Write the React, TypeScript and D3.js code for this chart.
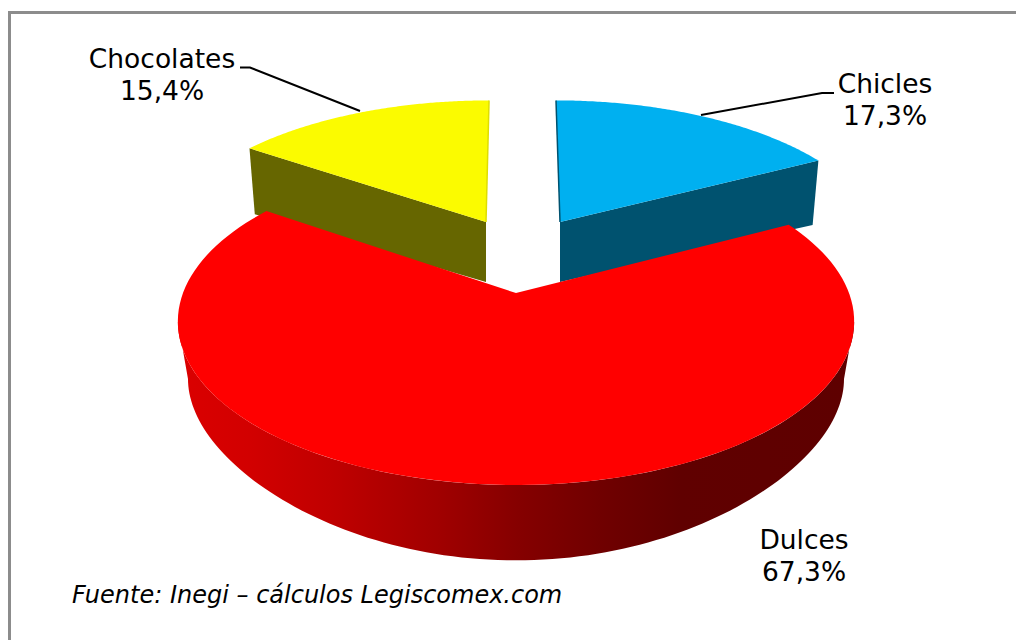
import React from 'react';
import * as d3 from 'd3';

// --- Data ---
const categories = ['Chicles', 'Dulces', 'Chocolates'];
const shares = [17.3, 67.3, 15.4];
const sliceColors = ['#00b0f0', '#ff0000', '#fbfb00'];
const wallColors = ['#00526f', '#8a0000', '#666600'];
const sourceNote = 'Fuente: Inegi – cálculos Legiscomex.com';

// --- Layout ---
const WIDTH = 1016;
const HEIGHT = 640;
const CX = 516;
const CY = 293;
const RADIUS_X = 333;
const RADIUS_Y = 158.6;
const TILT = 0.174;
const LOWER_RADIUS_X = 323;
const LOWER_RADIUS_Y = 141;
const LOWER_TILT = 0.32;
const DEPTH = 60;

// the two small slices are pulled out of the pie, red one stays put
const wedgeLayout = [
    { dx: 44, dy: -71, sx: 0.955, sy: 0.9, shear: 0.033 },
    { dx: 0, dy: 0, sx: 1, sy: 1, shear: 0 },
    { dx: -30, dy: -71, sx: 0.955, sy: 0.9, shear: -0.025 },
];

const labelLayout = [
    { x: 885, y: 93, leader: [[834, 93], [822, 93], [701, 115]] },
    { x: 804, y: 549, leader: [] },
    { x: 162, y: 68, leader: [[240, 67.5], [250, 67.5], [360, 111]] },
];

// --- Helpers ---
const pie = d3.pie<number>().sort(null).startAngle(0).endAngle(2 * Math.PI);
const slices = pie(shares);

// angle runs clockwise from the top of the pie, as in d3.pie
const topPoint = (angle: number, w = wedgeLayout[1]): [number, number] => {
    const u = Math.sin(angle);
    const v = -Math.cos(angle);
    const f = 1 - TILT * v;
    const y = (RADIUS_Y * v * w.sy) / f;
    return [CX + w.dx + (RADIUS_X * u * w.sx) / f + w.shear * y, CY + w.dy + y];
};

const bottomPoint = (angle: number, w = wedgeLayout[1]): [number, number] => {
    const u = Math.sin(angle);
    const v = -Math.cos(angle);
    return [
        CX + w.dx + (LOWER_RADIUS_X * u * w.sx) / (1 - TILT * v),
        CY + w.dy + DEPTH + (LOWER_RADIUS_Y * v) / (1 - LOWER_TILT * v),
    ];
};

const line = d3.line();

const sampleAngles = (a0: number, a1: number) => d3.range(0, 121).map(i => a0 + ((a1 - a0) * i) / 120);

const topPath = (a0: number, a1: number, w: typeof wedgeLayout[number]) =>
    line([[CX + w.dx, CY + w.dy], ...sampleAngles(a0, a1).map(a => topPoint(a, w))]) + 'Z';

// flat cut face between the rim point and the apex of a pulled out slice
const cutFacePath = (angle: number, w: typeof wedgeLayout[number]) =>
    line([
        [CX + w.dx, CY + w.dy],
        topPoint(angle, w),
        bottomPoint(angle, w),
        [CX + w.dx, CY + w.dy + DEPTH],
    ]) + 'Z';

const rimPath = (a0: number, a1: number) => {
    const angles = sampleAngles(a0, a1);
    return line([...angles.map(a => topPoint(a)), ...angles.slice().reverse().map(a => bottomPoint(a))]) + 'Z';
};

const wallStops = [
    { at: 185, color: '#da0000' },
    { at: 250, color: '#d20000' },
    { at: 330, color: '#c00000' },
    { at: 440, color: '#a00000' },
    { at: 516, color: '#860000' },
    { at: 600, color: '#700000' },
    { at: 680, color: '#600000' },
    { at: 850, color: '#5e0000' },
];
const stopOffset = d3.scaleLinear().domain([185, 850]).range([0, 1]);

const percentLabel = (v: number) => `${v.toFixed(1).replace('.', ',')}%`;

export default function App() {
    const [chicles, dulces, chocolates] = slices;
    return (
        <svg
            width={WIDTH}
            height={HEIGHT}
            style={{ position: 'fixed', left: 0, top: 0, display: 'block', background: '#fff' }}
            fontFamily="'DejaVu Sans', Verdana, sans-serif"
        >
            <defs>
                <linearGradient id="redWall" gradientUnits="userSpaceOnUse" x1={185} x2={850} y1={0} y2={0}>
                    {wallStops.map(s => (
                        <stop key={s.at} offset={stopOffset(s.at)} stopColor={s.color} />
                    ))}
                </linearGradient>
            </defs>

            {/* frame, only top and left are inside the picture */}
            <path d="M9.5 640V12.5H1016" fill="none" stroke="#8c8c8c" strokeWidth={3} />

            {/* pulled out slices, behind the red one */}
            <path d={cutFacePath(chicles.endAngle, wedgeLayout[0])} fill={wallColors[0]} />
            <path d={cutFacePath(chocolates.startAngle, wedgeLayout[2])} fill={wallColors[2]} />
            <path
                d={topPath(chicles.startAngle, chicles.endAngle, wedgeLayout[0])}
                fill={sliceColors[0]}
            />
            <path
                d={topPath(chocolates.startAngle, chocolates.endAngle, wedgeLayout[2])}
                fill={sliceColors[2]}
            />
            <path
                d={line([topPoint(chicles.startAngle, wedgeLayout[0]), [CX + wedgeLayout[0].dx, CY + wedgeLayout[0].dy]]) || ''}
                stroke={wallColors[0]}
                strokeWidth={1.5}
                fill="none"
            />
            <path
                d={line([topPoint(chocolates.endAngle, wedgeLayout[2]), [CX + wedgeLayout[2].dx, CY + wedgeLayout[2].dy]]) || ''}
                stroke="#dede00"
                strokeWidth={1.5}
                fill="none"
            />

            {/* red slice */}
            <path d={rimPath((100 * Math.PI) / 180, (260 * Math.PI) / 180)} fill="url(#redWall)" />
            <path d={topPath(dulces.startAngle, dulces.endAngle, wedgeLayout[1])} fill={sliceColors[1]} />

            {/* leaders and labels */}
            {labelLayout.map((l, i) =>
                l.leader.length > 0 ? (
                    <path
                        key={categories[i]}
                        d={line(l.leader as [number, number][]) || ''}
                        fill="none"
                        stroke="#000"
                        strokeWidth={2}
                    />
                ) : null
            )}
            {labelLayout.map((l, i) => (
                <text key={categories[i]} x={l.x} y={l.y} textAnchor="middle" fontSize={26.5} fill="#000">
                    <tspan x={l.x}>{categories[i]}</tspan>
                    <tspan x={l.x} dy={32}>{percentLabel(shares[i])}</tspan>
                </text>
            ))}
            <text x={72} y={603} fontSize={24} fontStyle="italic" fill="#000">{sourceNote}</text>
        </svg>
    );
}
